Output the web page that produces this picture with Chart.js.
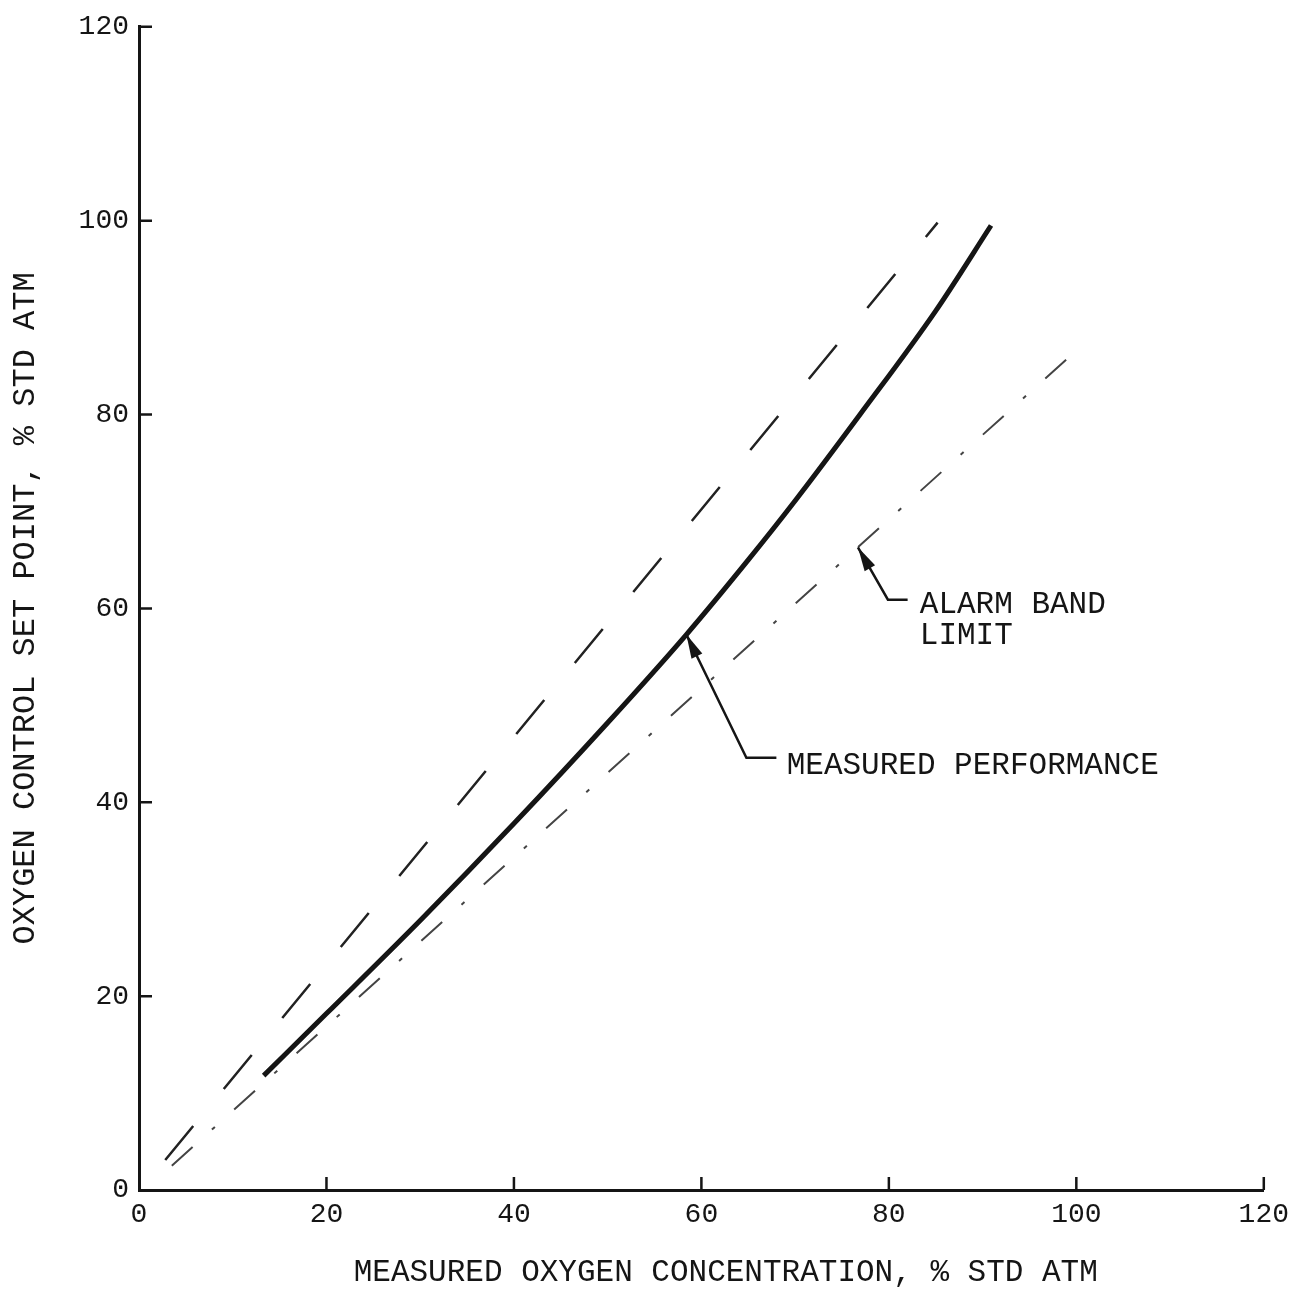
<!DOCTYPE html>
<html>
<head>
<meta charset="utf-8">
<script src="https://cdn.jsdelivr.net/npm/chart.js@4.4.0/dist/chart.umd.min.js"></script>
<style>
  html, body { margin: 0; padding: 0; background: #fff; }
  #wrap { position: relative; width: 1297px; height: 1289px; }
</style>
</head>
<body>
<div id="wrap"><canvas id="c"></canvas></div>
<script>
// measured performance curve (solid)
const measuredX = [13.3, 20, 30, 40, 50, 58.4, 65, 70, 77, 85, 90.9];
const measuredY = [11.8, 18.2, 27.8, 37.8, 48.2, 57.3, 65.0, 71.1, 80.1, 90.7, 99.5];

// alarm band limits (broken lines)
const upperX = [2.8, 85.2];
const upperY = [3.1, 99.8];
const lowerX = [3.5, 100.1];
const lowerY = [2.5, 86.7];

const xTicks = [0, 20, 40, 60, 80, 100, 120];
const yTicks = [0, 20, 40, 60, 80, 100, 120];

const xTitle = 'MEASURED OXYGEN CONCENTRATION, % STD ATM';
const yTitle = 'OXYGEN CONTROL SET POINT, % STD ATM';

// callouts: arrow tip, elbow, end of leader, text anchor (data units)
const notes = [
  { lines: ['MEASURED PERFORMANCE'], tip: [58.4, 57.3], elbow: [64.8, 44.6], end: [68.0, 44.6], at: [69.1, 43.8] },
  { lines: ['ALARM BAND', 'LIMIT'], tip: [76.7, 66.3], elbow: [79.9, 60.9], end: [82.0, 60.9], at: [83.3, 60.4] }
];

const FONT = '"Liberation Mono", "Courier New", monospace';
const INK = '#151515';

const pts = (xs, ys) => xs.map((x, i) => ({ x: x, y: ys[i] }));

const decor = {
  id: 'decor',
  afterDraw(chart) {
    const { ctx, scales: { x, y }, chartArea: a } = chart;
    ctx.save();
    ctx.strokeStyle = INK;
    ctx.fillStyle = INK;

    // inward ticks
    ctx.lineWidth = 2.5;
    ctx.beginPath();
    xTicks.forEach(v => {
      if (v === 0) return;
      const px = x.getPixelForValue(v);
      ctx.moveTo(px, a.bottom);
      ctx.lineTo(px, a.bottom - 13);
    });
    yTicks.forEach(v => {
      if (v === 0) return;
      const py = y.getPixelForValue(v);
      ctx.moveTo(a.left, py);
      ctx.lineTo(a.left + 13, py);
    });
    ctx.stroke();

    // callouts
    ctx.font = '31px ' + FONT;
    ctx.textBaseline = 'middle';
    ctx.textAlign = 'left';
    notes.forEach(n => {
      const tx = x.getPixelForValue(n.tip[0]), ty = y.getPixelForValue(n.tip[1]);
      const ex = x.getPixelForValue(n.elbow[0]), ey = y.getPixelForValue(n.elbow[1]);
      const fx = x.getPixelForValue(n.end[0]);
      ctx.lineWidth = 2.5;
      ctx.beginPath();
      ctx.moveTo(fx, ey);
      ctx.lineTo(ex, ey);
      ctx.lineTo(tx, ty);
      ctx.stroke();
      // arrow head
      const ang = Math.atan2(ty - ey, tx - ex);
      const L = 24, W = 6;
      ctx.beginPath();
      ctx.moveTo(tx, ty);
      ctx.lineTo(tx - L * Math.cos(ang) + W * Math.sin(ang), ty - L * Math.sin(ang) - W * Math.cos(ang));
      ctx.lineTo(tx - L * Math.cos(ang) - W * Math.sin(ang), ty - L * Math.sin(ang) + W * Math.cos(ang));
      ctx.closePath();
      ctx.fill();
      const lx = x.getPixelForValue(n.at[0]);
      let ly = y.getPixelForValue(n.at[1]);
      n.lines.forEach(t => { ctx.fillText(t, lx, ly); ly += 31; });
    });

    // x axis title
    ctx.textAlign = 'center';
    ctx.fillText(xTitle, x.getPixelForValue(62.6), a.bottom + 83);
    ctx.restore();
  }
};

new Chart(document.getElementById('c'), {
  type: 'scatter',
  data: {
    datasets: [
      {
        label: 'Measured performance',
        data: pts(measuredX, measuredY),
        showLine: true,
        borderColor: INK,
        borderWidth: 5,
        pointRadius: 0,
        cubicInterpolationMode: 'monotone'
      },
      {
        label: 'Alarm band limit (upper)',
        data: pts(upperX, upperY),
        showLine: true,
        borderColor: '#222',
        borderWidth: 2.5,
        borderDash: [44, 48],
        pointRadius: 0
      },
      {
        label: 'Alarm band limit (lower)',
        data: pts(lowerX, lowerY),
        showLine: true,
        borderColor: '#444',
        borderWidth: 2,
        borderDash: [28, 26, 4, 26],
        pointRadius: 0
      }
    ]
  },
  options: {
    responsive: true,
    maintainAspectRatio: false,
    animation: false,
    layout: { padding: { top: 18, right: 30, left: 0, bottom: 0 } },
    plugins: {
      legend: { display: false },
      tooltip: { enabled: false }
    },
    scales: {
      x: {
        type: 'linear',
        min: 0,
        max: 120,
        afterBuildTicks: s => { s.ticks = xTicks.map(v => ({ value: v })); },
        afterFit: s => { s.height = 99; },
        grid: { display: false, drawTicks: false },
        border: { display: true, color: INK, width: 3 },
        ticks: { color: INK, padding: 8, font: { family: FONT, size: 28 } }
      },
      y: {
        type: 'linear',
        min: 0,
        max: 120,
        afterBuildTicks: s => { s.ticks = yTicks.map(v => ({ value: v })); },
        afterFit: s => { s.width = 139; },
        grid: { display: false, drawTicks: false },
        border: { display: true, color: INK, width: 3 },
        ticks: { color: INK, padding: 10, font: { family: FONT, size: 28 } },
        title: {
          display: true,
          text: yTitle,
          color: INK,
          padding: { top: 6, bottom: 0 },
          font: { family: FONT, size: 32 }
        }
      }
    }
  },
  plugins: [decor]
});
</script>
</body>
</html>
